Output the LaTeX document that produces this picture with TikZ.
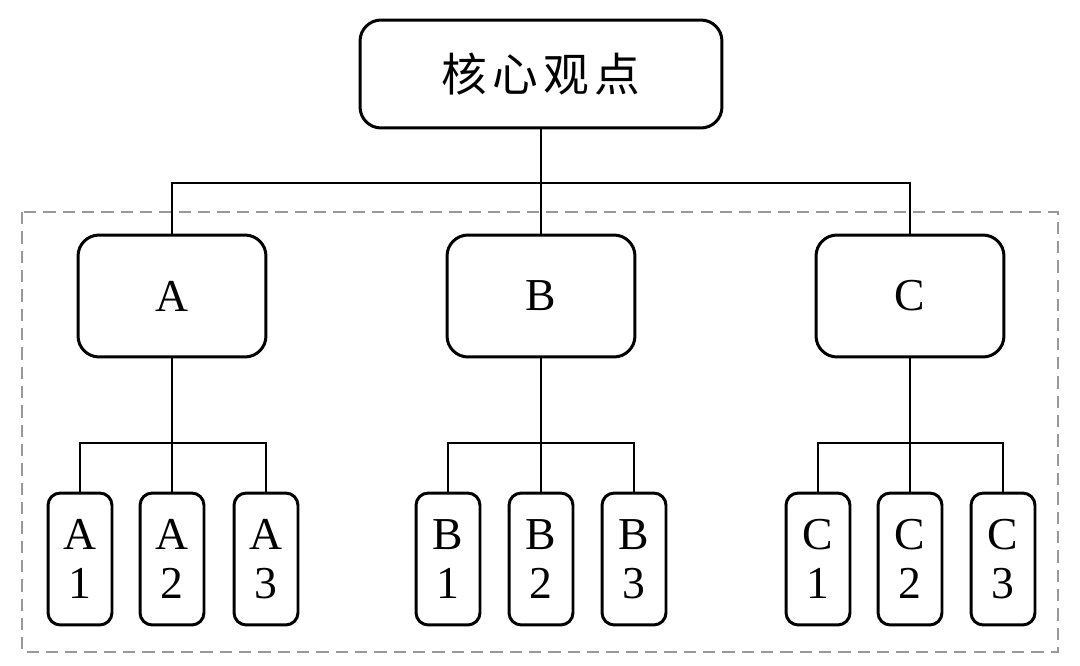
\documentclass[tikz,border=0pt]{standalone}
\usepackage{fontspec}
\setmainfont{Liberation Serif}
\newfontfamily\cjk[LetterSpace=12]{Noto Sans CJK SC}
\usepackage{tikz}

\begin{document}
\begin{tikzpicture}[x=0.02cm,y=-0.02cm,
  line width=1.7pt,
  topbox/.style={draw,rounded corners=12pt,minimum width=7.24cm,minimum height=2.16cm,inner sep=0pt,font=\cjk\fontsize{26}{30}\selectfont},
  midbox/.style={draw,rounded corners=12pt,minimum width=3.76cm,minimum height=2.44cm,inner sep=0pt,font=\fontsize{26}{30}\selectfont},
  leafbox/.style={draw,rounded corners=7pt,minimum width=1.28cm,minimum height=2.64cm,inner sep=0pt,align=center,font=\fontsize{26}{28}\selectfont}]
\useasboundingbox (0,0) rectangle (1080,666);
\draw [gray!80,line width=1.1pt,dash pattern=on 7pt off 4pt] (22,212) rectangle (1058,652);
\node [topbox] (core) at (541,74) {核心观点};
\node [midbox] (A) at (172,296) {A};
\node [midbox] (B) at (541,296) {B};
\node [midbox] (C) at (910,296) {C};
\coordinate (corej) at (541,183);
\draw (core) -- (corej);
\draw (corej) -| (A);
\draw (corej) -- (B);
\draw (corej) -| (C);
\node [leafbox] (A1) at (80,559) {A\\1};
\node [leafbox] (A2) at (172,559) {A\\2};
\node [leafbox] (A3) at (266,559) {A\\3};
\node [leafbox] (B1) at (448,559) {B\\1};
\node [leafbox] (B2) at (541,559) {B\\2};
\node [leafbox] (B3) at (634,559) {B\\3};
\node [leafbox] (C1) at (818,559) {C\\1};
\node [leafbox] (C2) at (910,559) {C\\2};
\node [leafbox] (C3) at (1003,559) {C\\3};
\coordinate (Aj) at (172,443);
\coordinate (Bj) at (541,443);
\coordinate (Cj) at (910,443);
\draw (A) -- (Aj);
\draw (Aj) -| (A1);
\draw (Aj) -- (A2);
\draw (Aj) -| (A3);
\draw (B) -- (Bj);
\draw (Bj) -| (B1);
\draw (Bj) -- (B2);
\draw (Bj) -| (B3);
\draw (C) -- (Cj);
\draw (Cj) -| (C1);
\draw (Cj) -- (C2);
\draw (Cj) -| (C3);
\end{tikzpicture}
\end{document}
